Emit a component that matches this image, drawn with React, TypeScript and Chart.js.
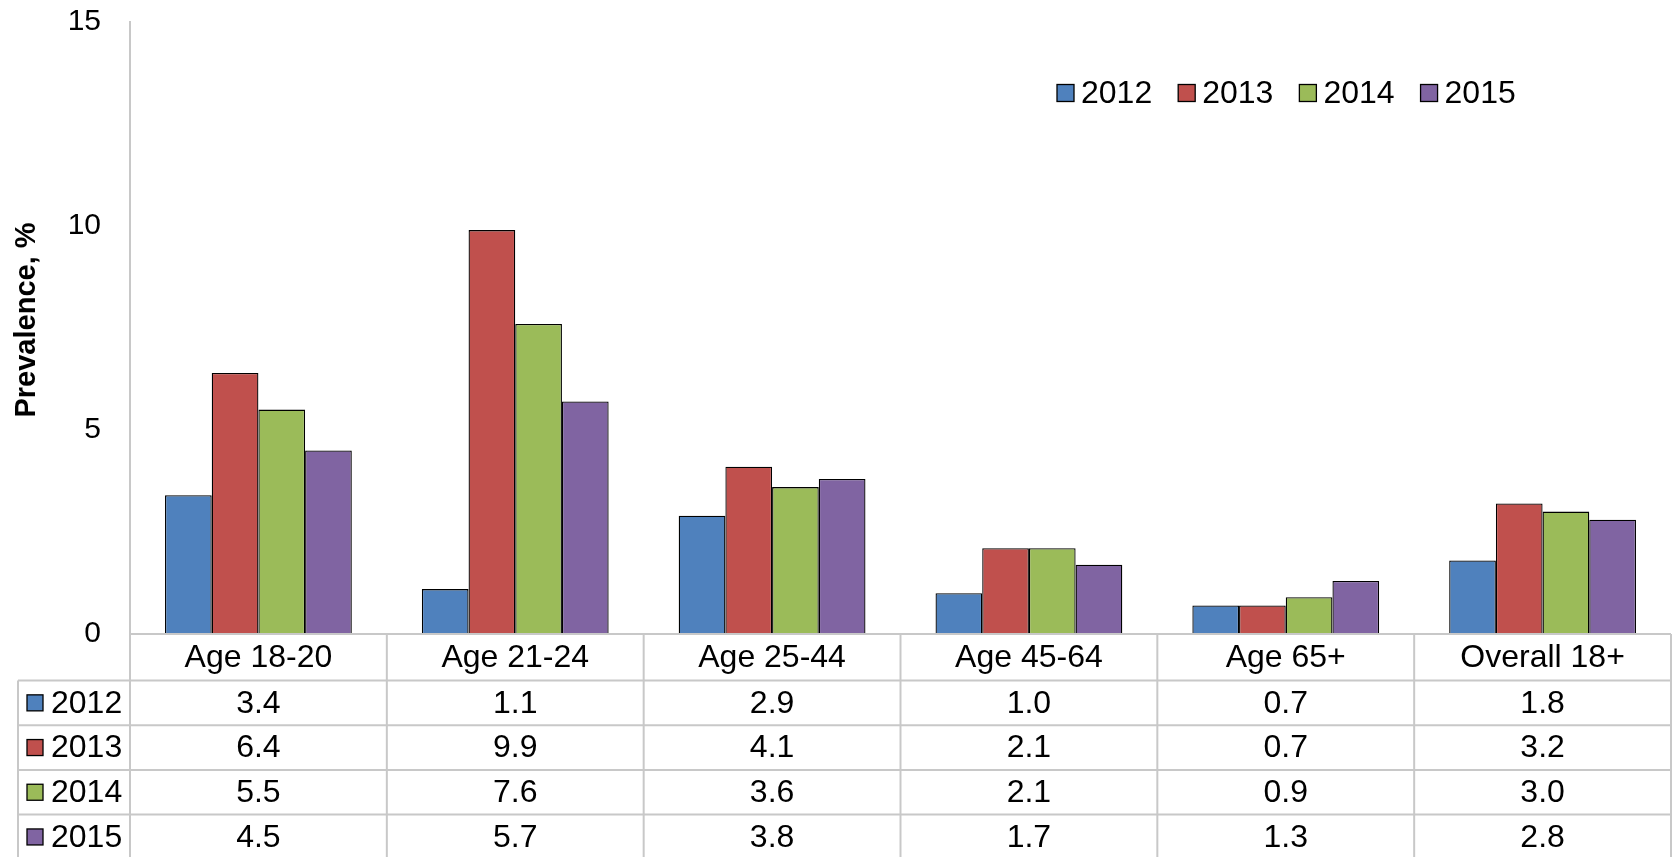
import React, { useEffect, useRef } from "react";
import { Chart, registerables } from "chart.js";

Chart.register(...registerables);

const categories = ["Age 18-20", "Age 21-24", "Age 25-44", "Age 45-64", "Age 65+", "Overall 18+"];
const seriesLabels = ["2012", "2013", "2014", "2015"];
const values2012 = [3.4, 1.1, 2.9, 1.0, 0.7, 1.8];
const values2013 = [6.4, 9.9, 4.1, 2.1, 0.7, 3.2];
const values2014 = [5.5, 7.6, 3.6, 2.1, 0.9, 3.0];
const values2015 = [4.5, 5.7, 3.8, 1.7, 1.3, 2.8];
const seriesColors = ["#4F81BD", "#C0504D", "#9BBB59", "#8064A2"];
const yTicks = [0, 5, 10, 15];
const yTitle = "Prevalence, %";

const allValues = [values2012, values2013, values2014, values2015];
const FONT = '"Liberation Sans", Arial, sans-serif';
const GRID = "#C8C8C8";

const tablePlugin = {
  id: "dataTable",
  afterDraw(chart: any) {
    const ctx = chart.ctx as CanvasRenderingContext2D;
    const xs = chart.scales.x;
    const ys = chart.scales.y;
    const left = chart.chartArea.left;
    const right = chart.chartArea.right;
    const n = categories.length;
    const cw = (right - left) / n;
    const top = ys.getPixelForValue(0);
    const headerBottom = top + 46.5;
    const rowH = 44.7;
    const tableLeft = 18;
    const bottom = chart.height + 5;

    ctx.save();
    ctx.strokeStyle = GRID;
    ctx.lineWidth = 2;
    for (let i = 0; i <= n; i++) {
      const xx = left + i * cw;
      ctx.beginPath();
      ctx.moveTo(xx, top);
      ctx.lineTo(xx, bottom);
      ctx.stroke();
    }
    ctx.beginPath();
    ctx.moveTo(tableLeft, headerBottom);
    ctx.lineTo(tableLeft, bottom);
    ctx.stroke();
    ctx.beginPath();
    ctx.moveTo(left, top);
    ctx.lineTo(right, top);
    ctx.stroke();
    for (let r = 0; r < seriesLabels.length; r++) {
      const yy = headerBottom + r * rowH;
      ctx.beginPath();
      ctx.moveTo(tableLeft, yy);
      ctx.lineTo(right, yy);
      ctx.stroke();
    }

    ctx.fillStyle = "#000";
    ctx.textAlign = "center";
    ctx.textBaseline = "middle";
    ctx.font = `32px ${FONT}`;
    categories.forEach((c, i) => {
      ctx.fillText(c, xs.getPixelForValue(i), (top + headerBottom) / 2 + 1);
    });
    seriesLabels.forEach((s, r) => {
      const cy = headerBottom + r * rowH + rowH / 2 + 1;
      allValues[r].forEach((v, i) => {
        ctx.fillText(v.toFixed(1), xs.getPixelForValue(i), cy);
      });
      ctx.fillStyle = seriesColors[r];
      ctx.fillRect(27, cy - 9, 16, 16);
      ctx.strokeStyle = "#000";
      ctx.lineWidth = 1.3;
      ctx.strokeRect(27, cy - 9, 16, 16);
      ctx.fillStyle = "#000";
      ctx.textAlign = "left";
      ctx.fillText(s, 51, cy);
      ctx.textAlign = "center";
    });

    ctx.font = `32px ${FONT}`;
    ctx.textAlign = "left";
    let lx = 1057;
    const ly = 93;
    seriesLabels.forEach((s, r) => {
      ctx.fillStyle = seriesColors[r];
      ctx.fillRect(lx, ly - 8.5, 17, 17);
      ctx.strokeStyle = "#000";
      ctx.lineWidth = 1.3;
      ctx.strokeRect(lx, ly - 8.5, 17, 17);
      ctx.fillStyle = "#000";
      ctx.fillText(s, lx + 24, ly + 1);
      lx += 24 + ctx.measureText(s).width + 26;
    });

    ctx.save();
    ctx.translate(27, 320);
    ctx.rotate(-Math.PI / 2);
    ctx.font = `bold 29px ${FONT}`;
    ctx.textAlign = "center";
    ctx.textBaseline = "middle";
    ctx.fillText(yTitle, 0, 0);
    ctx.restore();

    ctx.restore();
  },
};

export default function App() {
  const ref = useRef<HTMLCanvasElement | null>(null);
  useEffect(() => {
    if (!ref.current) return;
    const chart = new Chart(ref.current, {
      type: "bar",
      data: {
        labels: categories,
        datasets: seriesLabels.map((s, i) => ({
          label: s,
          data: allValues[i],
          backgroundColor: seriesColors[i],
          borderColor: "#000",
          borderWidth: 1.3,
          borderSkipped: "bottom",
          categoryPercentage: 4 / 5.5,
          barPercentage: 1,
        })),
      },
      options: {
        responsive: false,
        animation: false,
        devicePixelRatio: 1,
        layout: { padding: { left: 0, top: 22, right: 5, bottom: 223 } },
        plugins: { legend: { display: false }, tooltip: { enabled: false } },
        scales: {
          x: { display: false, offset: true },
          y: {
            min: 0,
            max: 15,
            afterBuildTicks: (scale: any) => {
              scale.ticks = yTicks.map((v) => ({ value: v }));
            },
            afterFit: (scale: any) => {
              scale.width = 130;
              scale.paddingTop = 0;
              scale.paddingBottom = 0;
            },
            grid: { display: false, drawTicks: false },
            border: { display: true, color: GRID, width: 2 },
            ticks: {
              color: "#000",
              padding: 29,
              font: { family: FONT, size: 30 },
            },
          },
        },
      },
      plugins: [tablePlugin],
    });
    return () => chart.destroy();
  }, []);
  return (
    <div style={{ position: "fixed", left: 0, top: 0, width: 1676, height: 857, background: "#fff" }}>
      <canvas ref={ref} width={1676} height={857} style={{ display: "block" }} />
    </div>
  );
}
